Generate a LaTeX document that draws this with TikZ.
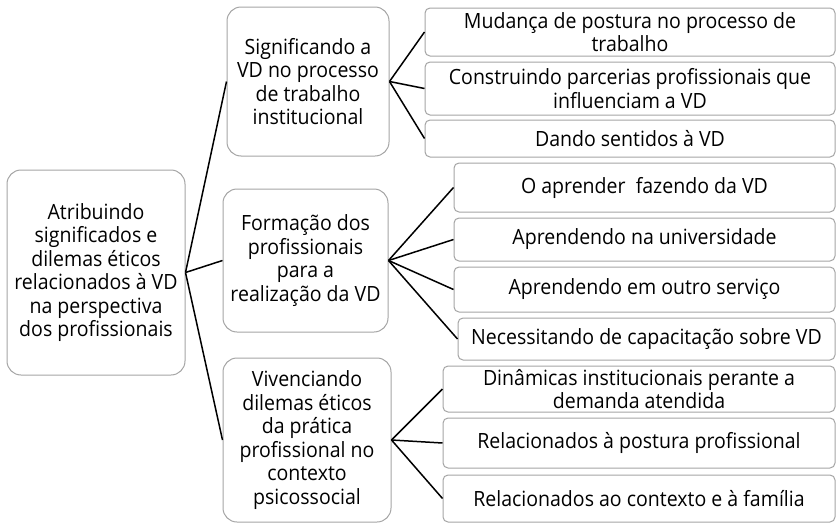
\documentclass[tikz,border=0pt]{standalone}
\usepackage{fontspec}
\setmainfont{Open Sans}[FakeStretch=0.93]
\usetikzlibrary{arrows}
\definecolor{boxgray}{RGB}{165,165,165}

\begin{document}
\begin{tikzpicture}[x=1pt,y=-1pt,
    box/.style={draw=boxgray,line width=1pt,fill=white,align=center,inner sep=0pt,
      font=\fontsize{21}{23.5}\selectfont},
    bigbox/.style={box,rounded corners=14pt},
    leafbox/.style={box,rounded corners=5pt}]
  \useasboundingbox (0,0) rectangle (836,525);
  % root and the three themes
  \node[bigbox,minimum width=178pt,minimum height=205pt](root)at(96, 272.5){Atribuindo\\significados e\\dilemas éticos\\relacionados à VD\\na perspectiva\\dos profissionais};
  \node[bigbox,minimum width=162pt,minimum height=149pt](t1)at(308, 81.5){Significando a\\VD no processo\\de trabalho\\institucional};
  \node[bigbox,minimum width=165pt,minimum height=143pt](t2)at(305.5, 260.5){Formação dos\\profissionais\\para a\\realização da VD};
  \node[bigbox,minimum width=168pt,minimum height=164pt](t3)at(307, 440){Vivenciando\\dilemas éticos\\da prática\\profissional no\\contexto\\psicossocial};
  % subthemes
  \node[leafbox,minimum width=410pt,minimum height=48pt](t1a)at(630, 32){Mudança de postura no processo de\\trabalho};
  \node[leafbox,minimum width=410pt,minimum height=53pt](t1b)at(630, 88.5){Construindo parcerias profissionais que\\influenciam a VD};
  \node[leafbox,minimum width=410pt,minimum height=37pt](t1c)at(630, 138.5){Dando sentidos à VD};
  \node[leafbox,minimum width=381pt,minimum height=49pt](t2a)at(644.5, 187.5){O aprender\ \ fazendo da VD};
  \node[leafbox,minimum width=381pt,minimum height=43pt](t2b)at(644.5, 239.5){Aprendendo na universidade};
  \node[leafbox,minimum width=381pt,minimum height=45pt](t2c)at(644.5, 289.5){Aprendendo em outro serviço};
  \node[leafbox,minimum width=377pt,minimum height=42pt](t2d)at(646.5, 339){Necessitando de capacitação sobre VD};
  \node[leafbox,minimum width=392pt,minimum height=46pt](t3a)at(639, 389){Dinâmicas institucionais perante a\\demanda atendida};
  \node[leafbox,minimum width=392pt,minimum height=50pt](t3b)at(639, 443){Relacionados à postura profissional};
  \node[leafbox,minimum width=392pt,minimum height=47pt](t3c)at(639, 498.5){Relacionados ao contexto e à família};
  \path[draw=black,line width=1.5pt](root.east) edge (t1.west)
    (root.east) edge (t2.west)
    (root.east) edge (t3.west)
    (t1.east) edge (t1a.west)
    (t1.east) edge (t1b.west)
    (t1.east) edge (t1c.west)
    (t2.east) edge (t2a.west)
    (t2.east) edge (t2b.west)
    (t2.east) edge (t2c.west)
    (t2.east) edge (t2d.west)
    (t3.east) edge (t3a.west)
    (t3.east) edge (t3b.west)
    (t3.east) edge (t3c.west);
\end{tikzpicture}
\end{document}
